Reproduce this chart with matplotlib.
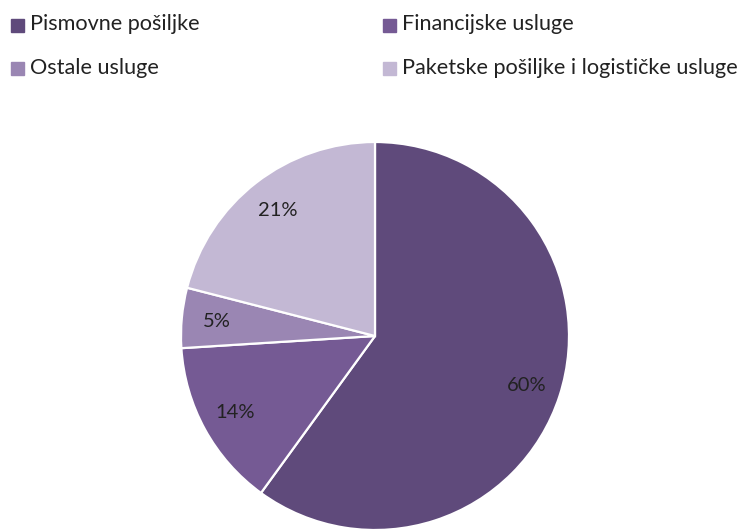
import matplotlib
matplotlib.use("Agg")
import matplotlib.pyplot as plt
from matplotlib.patches import Rectangle

categories = ["Pismovne pošiljke", "Financijske usluge", "Ostale usluge",
              "Paketske pošiljke i logističke usluge"]
values = [60, 14, 5, 21]
colors = ["#5f4a7b", "#755a94", "#9a86b3", "#c3b8d4"]

plt.rcParams['font.family'] = ['Lato', 'DejaVu Sans']

W, H = 742, 529
fig = plt.figure(figsize=(W / 100, H / 100), dpi=100)
ax = fig.add_axes([0, 0, 1, 1])

wedges, texts, autotexts = ax.pie(
    values, colors=colors, startangle=90, counterclock=False,
    center=(375, H - 336), radius=194, frame=True,
    autopct='%d%%', pctdistance=0.82,
    wedgeprops=dict(edgecolor='white', linewidth=1.6),
    textprops=dict(fontsize=14.5, color='#222222'))
ax.set_xlim(0, W)
ax.set_ylim(0, H)
ax.set_aspect('equal')
ax.axis('off')

# legend (2x2 grid)
pos = [(11, 25), (383, 25), (11, 68.5), (383, 68.5)]
for (x, y), lab, col in zip(pos, categories, colors):
    ax.add_patch(Rectangle((x, H - y - 6.5), 13, 13, color=col, clip_on=False))
    ax.text(x + 19, H - y + 1, lab, fontsize=15.6, color='#222222', va='center', ha='left')

fig.savefig("out.png", dpi=100)
